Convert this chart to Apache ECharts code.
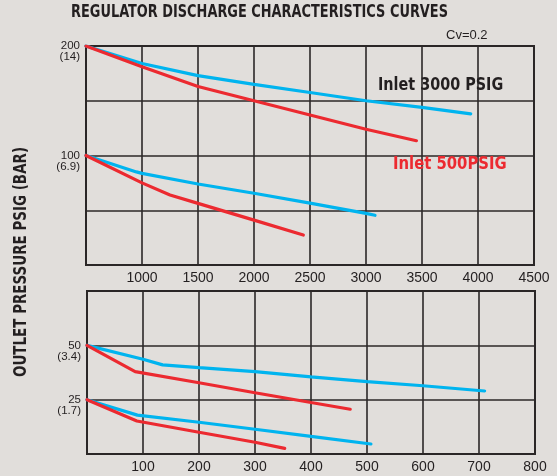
<!DOCTYPE html>
<html>
<head>
<meta charset="utf-8">
<script src="https://cdn.jsdelivr.net/npm/echarts@6/dist/echarts.min.js"></script>
<style>
html,body{margin:0;padding:0;background:#e1dedb;}
#c{width:557px;height:476px;}
</style>
</head>
<body>
<div id="c"></div>
<script>
// ---- Data ----
const titleText = 'REGULATOR DISCHARGE CHARACTERISTICS CURVES';
const yAxisTitle = 'OUTLET PRESSURE PSIG (BAR)';
const cvText = 'Cv=0.2';
const inlet3000Label = 'Inlet 3000 PSIG';
const inlet500Label = 'Inlet 500PSIG';

// y tick labels (psig with bar)
const topYLabels = {200: '200\n(14)', 100: '100\n(6.9)'};
const bottomYLabels = {50: '50\n(3.4)', 25: '25\n(1.7)'};

// Top panel (flow 500-4500)
const top3000_200 = [[500,200],[1000,184],[1500,173],[2000,165],[2500,157.5],[3000,150],[3500,144],[3935,138]];
const top500_200  = [[500,200],[1000,181],[1500,163],[2000,150],[2500,137],[3000,124],[3450,113.5]];
const top3000_100 = [[500,100],[950,85],[1000,83.7],[1500,74],[2000,65.5],[2500,56.5],[3000,47.2],[3080,45.4]];
const top500_100  = [[500,100],[1000,75],[1250,64],[1500,56.3],[2000,41],[2440,27.4]];

// Bottom panel (flow 0-800)
const bot3000_50 = [[0,50],[100,43.6],[135,41],[200,39.7],[300,37.9],[400,35.5],[500,33.3],[600,31.4],[710,29]];
const bot500_50  = [[0,50],[86,37.9],[200,32.8],[300,28.2],[400,23.7],[470,20.6]];
const bot3000_25 = [[0,25],[90,17.9],[200,14.6],[300,11.4],[400,8.1],[507,4.6]];
const bot500_25  = [[0,25],[89,15.2],[200,10],[300,5.4],[353,2.6]];

const BLUE = '#00b4ef';
const RED = '#ec2a30';
const GRID = '#2b2727';
const TXT = '#231f20';
const condensed = "'Liberation Sans Narrow','DejaVu Sans Condensed','Liberation Sans',sans-serif";
const plain = "'Liberation Sans',Arial,sans-serif";

const chart = echarts.init(document.getElementById('c'), null, {renderer:'canvas'});

function line(data, color, xi){
  return {type:'line', xAxisIndex:xi, yAxisIndex:xi, data:data, symbol:'none',
    lineStyle:{color:color, width:3.2, cap:'round'}, silent:true, animation:false, z:5};
}

const xLabel = {color:TXT, fontFamily:plain, fontSize:14, margin:6};
const yLabel = {color:TXT, fontFamily:plain, fontSize:11.5, lineHeight:11, margin:6, align:'right'};

const option = {
  backgroundColor:'#e1dedb',
  animation:false,
  grid:[
    {left:86, top:46, width:448, height:219, show:true, borderColor:GRID, borderWidth:2, backgroundColor:'transparent'},
    {left:87, top:291, width:448, height:163, show:true, borderColor:GRID, borderWidth:2, backgroundColor:'transparent'}
  ],
  xAxis:[
    {type:'value', gridIndex:0, min:500, max:4500, interval:500,
      axisLine:{show:true, lineStyle:{color:GRID, width:2}}, axisTick:{show:false},
      splitLine:{show:true, lineStyle:{color:GRID, width:1.6}},
      axisLabel:Object.assign({}, xLabel, {formatter:v => v===500 ? '' : String(v), showMinLabel:false})},
    {type:'value', gridIndex:1, min:0, max:800, interval:100,
      axisLine:{show:true, lineStyle:{color:GRID, width:2}}, axisTick:{show:false},
      splitLine:{show:true, lineStyle:{color:GRID, width:1.6}},
      axisLabel:Object.assign({}, xLabel, {formatter:v => v===0 ? '' : String(v), showMinLabel:false})}
  ],
  yAxis:[
    {type:'value', gridIndex:0, min:0, max:200, interval:50,
      axisLine:{show:true, lineStyle:{color:GRID, width:2}}, axisTick:{show:false},
      splitLine:{show:true, lineStyle:{color:GRID, width:1.6}},
      axisLabel:Object.assign({}, yLabel, {formatter:v => topYLabels[v] ? '\n' + topYLabels[v] : ''})},
    {type:'value', gridIndex:1, min:0, max:75, interval:25,
      axisLine:{show:true, lineStyle:{color:GRID, width:2}}, axisTick:{show:false},
      splitLine:{show:true, lineStyle:{color:GRID, width:1.6}},
      axisLabel:Object.assign({}, yLabel, {formatter:v => bottomYLabels[v] ? '\n' + bottomYLabels[v] : ''})}
  ],
  series:[
    line(top3000_200, BLUE, 0),
    line(top500_200, RED, 0),
    line(top3000_100, BLUE, 0),
    line(top500_100, RED, 0),
    line(bot3000_50, BLUE, 1),
    line(bot500_50, RED, 1),
    line(bot3000_25, BLUE, 1),
    line(bot500_25, RED, 1)
  ],
  graphic:[
    {type:'text', x:259.5, y:12.5, scaleX:0.845, z:10,
      style:{text:titleText, fill:TXT, font:"bold 17px " + condensed, textAlign:'center', textVerticalAlign:'middle'}},
    {type:'text', x:446, y:29, z:10,
      style:{text:cvText, fill:TXT, font:"13px " + plain}},
    {type:'text', x:22, y:262, rotation:Math.PI/2, scaleX:0.88, z:10,
      style:{text:yAxisTitle, fill:TXT, font:"bold 17px " + condensed, textAlign:'center', textVerticalAlign:'middle'}},
    {type:'text', x:378, y:77, scaleX:0.94, z:10,
      style:{text:inlet3000Label, fill:TXT, font:"bold 17px " + condensed}},
    {type:'text', x:393, y:156, scaleX:0.97, z:10,
      style:{text:inlet500Label, fill:RED, font:"bold 17px " + condensed}}
  ]
};
chart.setOption(option);
</script>
</body>
</html>
